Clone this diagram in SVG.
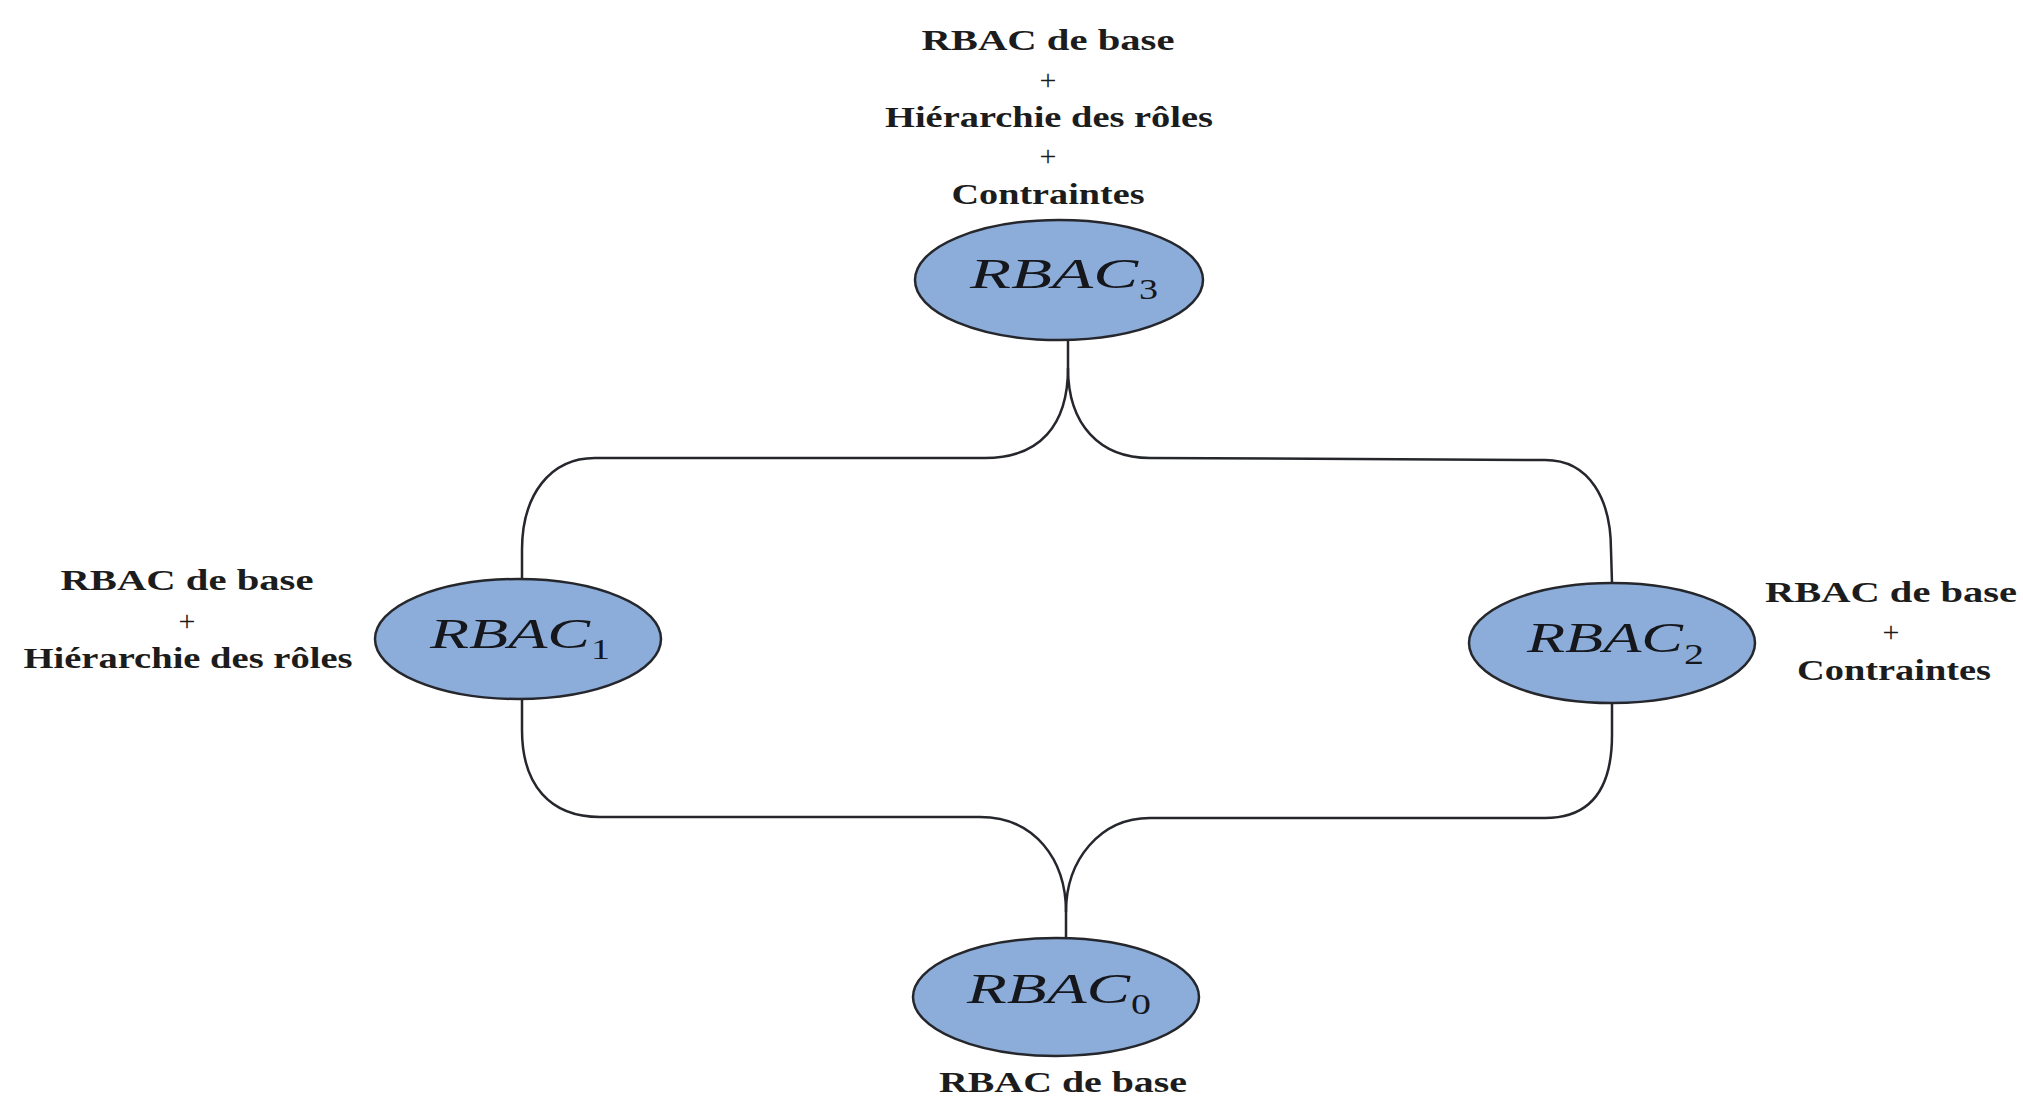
<svg xmlns="http://www.w3.org/2000/svg" width="2023" height="1097" viewBox="0 0 2023 1097">
<style>
.lbl{font-family:"Liberation Serif","Times New Roman",serif;font-weight:bold;font-size:29px;fill:#1c1c1c;text-anchor:middle}
.plus{font-family:"Liberation Serif","Times New Roman",serif;font-size:30px;fill:#1c1c1c;text-anchor:middle}
.node{fill:#8cadd9;stroke:#25272d;stroke-width:2.5}
.nm{font-family:"Liberation Serif","Times New Roman",serif;font-style:italic;font-size:42px;fill:#15171c}
.sub{font-family:"Liberation Serif","Times New Roman",serif;font-size:29px;fill:#15171c}
.conn{fill:none;stroke:#25272d;stroke-width:2.5}
</style>
<rect width="2023" height="1097" fill="#ffffff"/>
<g id="connectors">
<path class="conn" d="M1068,340 L1068,368 C1068,425 1040,458 985,458 L595,458 C550,458 522,495 522,550 L522,579"/>
<path class="conn" d="M1068,368 C1068,425 1100,458 1150,458 L1545,460 C1590,460 1611,500 1611,550 L1612,583"/>
<path class="conn" d="M522,699 L522,730 C522,785 550,817 600,817 L980,817 C1035,817 1066,860 1066,912 L1066,938"/>
<path class="conn" d="M1612,703 L1612,735 C1612,790 1590,818 1545,818 L1150,818 C1100,818 1066,860 1066,912"/>
</g>
<g id="rbac3">
<ellipse class="node" cx="1059" cy="280" rx="144" ry="60"/>
<text class="nm" x="970" y="288" textLength="168" lengthAdjust="spacingAndGlyphs">RBAC</text>
<text class="sub" x="1139" y="299" textLength="19" lengthAdjust="spacingAndGlyphs">3</text>
</g>
<g id="rbac1">
<ellipse class="node" cx="518" cy="639" rx="143" ry="60"/>
<text class="nm" x="430" y="648" textLength="160" lengthAdjust="spacingAndGlyphs">RBAC</text>
<text class="sub" x="591" y="659" textLength="19" lengthAdjust="spacingAndGlyphs">1</text>
</g>
<g id="rbac2">
<ellipse class="node" cx="1612" cy="643" rx="143" ry="60"/>
<text class="nm" x="1527" y="652" textLength="156" lengthAdjust="spacingAndGlyphs">RBAC</text>
<text class="sub" x="1684" y="664" textLength="20" lengthAdjust="spacingAndGlyphs">2</text>
</g>
<g id="rbac0">
<ellipse class="node" cx="1056" cy="997" rx="143" ry="59"/>
<text class="nm" x="967" y="1003" textLength="163" lengthAdjust="spacingAndGlyphs">RBAC</text>
<text class="sub" x="1131" y="1014" textLength="20" lengthAdjust="spacingAndGlyphs">0</text>
</g>
<g id="label-rbac3">
<text class="lbl" x="1048" y="50" textLength="253" lengthAdjust="spacingAndGlyphs">RBAC de base</text>
<text class="plus" x="1048" y="90">+</text>
<text class="lbl" x="1049" y="127" textLength="328" lengthAdjust="spacingAndGlyphs">Hiérarchie des rôles</text>
<text class="plus" x="1048" y="166">+</text>
<text class="lbl" x="1048" y="204" textLength="193" lengthAdjust="spacingAndGlyphs">Contraintes</text>
</g>
<g id="label-rbac1">
<text class="lbl" x="187" y="590" textLength="253" lengthAdjust="spacingAndGlyphs">RBAC de base</text>
<text class="plus" x="187" y="631">+</text>
<text class="lbl" x="188" y="668" textLength="329" lengthAdjust="spacingAndGlyphs">Hiérarchie des rôles</text>
</g>
<g id="label-rbac2">
<text class="lbl" x="1891" y="602" textLength="252" lengthAdjust="spacingAndGlyphs">RBAC de base</text>
<text class="plus" x="1891" y="642">+</text>
<text class="lbl" x="1894" y="680" textLength="194" lengthAdjust="spacingAndGlyphs">Contraintes</text>
</g>
<g id="label-rbac0">
<text class="lbl" x="1063" y="1092" textLength="248" lengthAdjust="spacingAndGlyphs">RBAC de base</text>
</g>
</svg>
